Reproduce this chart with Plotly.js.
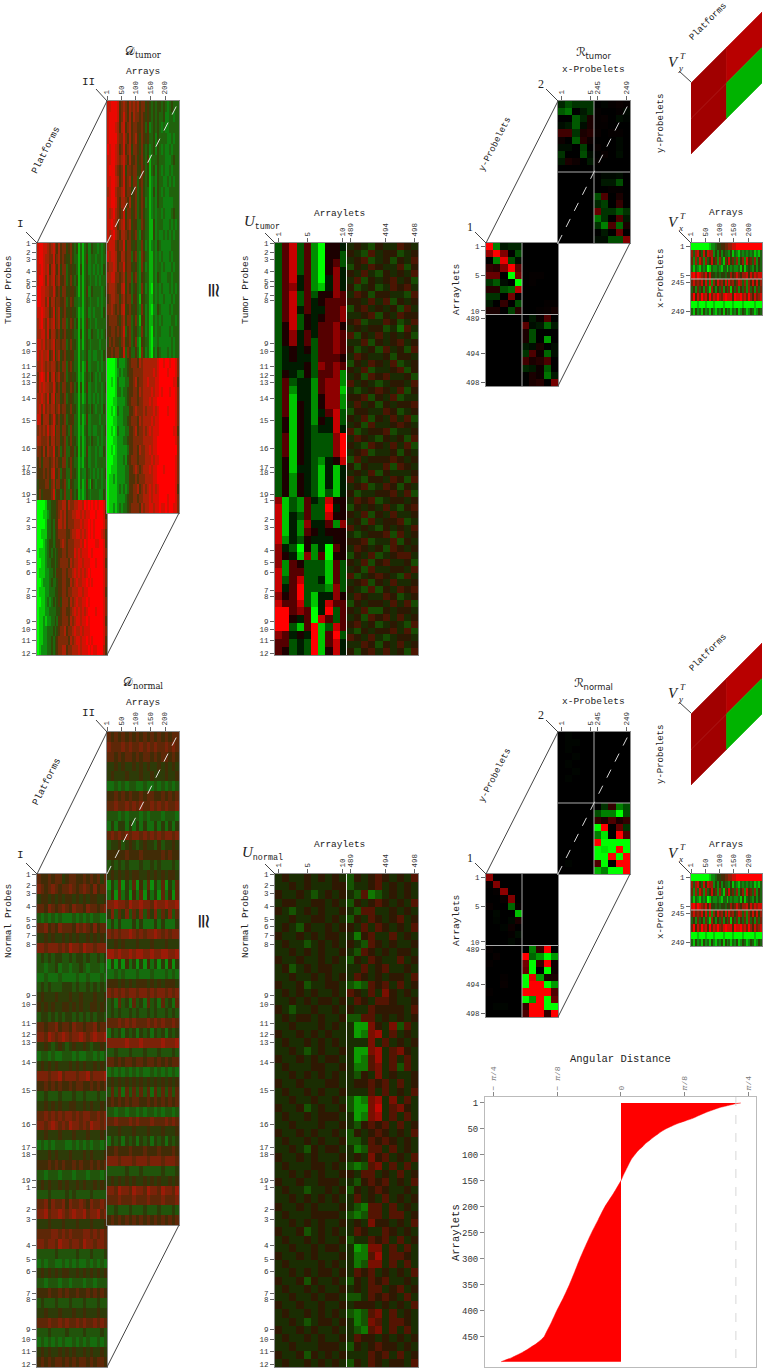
<!DOCTYPE html>
<html><head><meta charset="utf-8">
<script src="https://cdn.plot.ly/plotly-3.0.1.min.js"></script>
<style>html,body{margin:0;padding:0;background:#fff}</style></head>
<body><div id="chart" style="width:765px;height:1371px"></div>
<script>
// Heat values: one digit per cell, 0 = full green, 9 = full red
const dTumorITop=[
"899887678657566456434131342243323234","899877668567565446433131352233233233","889878578657466345443141342232323243","899868678567556346434131343233232333",
"998877668656466445543131352243333234","998868577566556346533231343233323233","889877568467456445443121342232333243","789768678567466346534131353233233333",
"778868577656456445433141342243323234","887867678566566346443131343233332333","878778568467456445533132342232233243","778767677656466356433131252233323233",
"689868578567556345443121343243232333","687877668656466446534141352233233234","778768578466456345433131242232323233","786867677567566446443132343243233243",
"885777568656456345533131252233332333","676768678466466436433121342232233234","776667577566456346443131243243323233","665757668456356335534131252233232243",
"564666567565466346433121342233233333","555656578456355336443132243232323234","455566467466456325433131252143233233","464555568355346336434121243233332243"];
const dTumorIITop=[
"889998567657676756645434344343234333","899998568657576656545434343342233233","899987578567566556535234343232233333","899997668657567546545334243333223233",
"989987568567466546434234243232232333","889987678657556456435133343332223433","899976568466566446534134243232232333","889987568567466356434123243322323233",
"789976678566456346433124243232233333","889986577657456346523123243322222333","878976568466456346433123233232223433","889875678567455336533114233322232323",
"878976577656456325433114232232323233","788865668466445336423123243222223333","878875577566356326533113232322232333","677875668566445326423113233232223233",
"778866567466356325433113243222332333","677765578465345326423103232322232323","567766467566355315433113232232223233","667656578456445326423102243222232333",
"566665467466346315523113232322223323","556656568356345326423103233222232333","465655467456346215433102232222223233","556566458365335316423103243222323233"];
const dTumorIBottom=[
"000013344456677576677887989898989986","000112344456767566778878788999899985","000013343557767566677787889898999986","001113343456666556778878789898999875",
"000123443455676566677787989999889985","011123434345566566687878889989999986","001123344345666657677887888999899985","011122334355566566787878789899999986",
"001222343345566557678778898989999986","011122333445566566777887889999999985","001123234345466657678778898999999986","011122333344566556787878789999899986",
"011212233435566657678878898999999985","011223334345667566787787888999999986","011223343456666657678878898989999985","012223343456677566777878889898899975"];
const dTumorIIBottom=[
"000013222345666576777777789989989986","000012323345566666777778789999899986","001013222335567566778777889999999885","000013323345566576777787889899989986",
"000112222345666566777878899999999986","001013223335567666767778789999899986","000112223345666576777787889999999986","001013222335567566767878889999999885",
"000112223345566666777778899999999986","001012222235566576677878899999999996","000112223245666566677787889999999986","001112222335567656777878899989999986",
"011212222335556566677778899999999986","011112323235566756767878789999999985","011112222345566566777878889999899986","011212323345666657677887889889899886"];
const dNormalI=[
"65565664566556565646","76567656676567657566","45545454554545455445","66576567657665766567","32323232223232323322","66756576665767657566","44545445454544545454","77677767687768776777",
"34343443343443433434","33233423323343233323","22322232222322322232","34343334443433434343","45444544454454445445","54545445545454455454","34434343443434343443","66566756657665667566",
"77687678767787678778","44543454345445434454","23323223332322332323","45454544454545445454","77767786777677867778","55656565565665565656","33433343334334333433","44545454455445454454",
"66767676776767766767","77678767687767687767","44544454445444544454","23232333223232323323","44454544454445454445","55565656556565565656","33233323332333233323","45454454544545445454",
"33343333434333343333","66757667576676576676","77867787678778677867","44454445444544454445","66667767676667767676","77677687767768776776","33333433333433343334","23233223232322323232",
"45454545544545454545","33233323323332332333","55565565655655656565","34333433343334333433","44544454445445444544","66676676766767667676","33343333433334333343","23232323223232322323",
"45454454545445454454","56565665656566565665"];
const dNormalII=[
"65656565656565656566","76667676676767667676","66565665656656566565","44545445454544545454","45444544454454445445","22323233223223232323","55656565565665565656","66766767676676767667",
"33323233323233323332","24244242424224242424","67676767767676767767","34453454345443534454","55555655565555565655","34343433343343433343","45454545544545454554","14261426152614261426",
"25162415261524162516","77877687787768778778","47364736473647364736","24242224242224242224","76767787676778767677","44545444544454445444","88787787887787788778","14141524141524141514",
"22323222322232223232","55545454555454545554","76767677677676776767","34263426342634263426","34343343433434334343","66676767666767676676","24342434243424342434","77777877787777787778",
"33433343334333433343","66565665665665656566","23232323232232323232","45454545454545454545","36362636363626363636","56565656655656565656","33233233232332323323","66766676766676667676",
"44454445444544454445","24342434243424342434","55655565556555655565","77767776777677767776","33333433343333343334","45454545445454544545","77687768776877687768","66676667666766676667",
"33433343334333433343","56565656565656565656"];
const uTumorLeft=[
"3683620554","3683620553","3683620563","3683620574","3684620474","3674621474","3683635576","3683645666",
"3684644667","3683545667","3583546675","3574646676","3574636676","3454536676","3454436665","3444537676",
"3543536672","3634426772","3624426771","3614425772","3615425772","3615424683","3515425483","3515434484",
"3615433379","3615433379","3615433379","3515432458","3514431414","3525431414","3525431414","3525431314",
"7132643855","8132633945","8143633855","8142744627","8142654555","8243544455","7430524065","7541726055",
"7265333163","8266333163","8368334163","8469333273","7569314475","8668314866","9967604936","9954608636",
"9931691386","7645491693","6634391684","6534391584"];
const uTumorRight=[
"4543544654","5436455345","4563453546","3546544635","5464354546","4635456453","5345346564","4653554436",
"5546463545","3564545364","4456354655","5634465346","4545534264","6354645453","4463545645","5345364536",
"4654453554","3546546345","5463445635","4536564453","6454345546","4345654635","5563546344","4645354556",
"3554465345","5463546463","4536445654","6345563445","4654354536","5436546463","4563445354","3645556545",
"5354463654","4546354445","6435546536","4563465354","5344556463","4656345545","3545464356","5463546445",
"4536455634","6454354546","4345563645","5563446354","4654536545","3546345664","5463564453","4536445546",
"6345654364","4563546445","5436354656","4654465345","3545546463","5463354554","4536564645","5645345436",
"4354556463","6546434554","4465354645","5356464536"];
const uNormal=[
"4544545454 3545654546","4454544455 3445645454","5445434545 4362345454","4554455454 3545654546","5434545445 4366445454","4454455454 3546545645","4543544545 5464654546","5445454554 4256446454",
"4544345454 5436545445","4454545445 4365454554","5445445454 3546544645","4534545544 4464564454","4454454545 4654545546","5445344554 3236564645","4545454454 6546475454","4454545545 4654665445",
"5434454454 5446555546","4545545445 3366454545","4454445454 4117547364","5445454544 4127846454","4544545454 4447464545","4454345445 4117846754","5445454554 4126846464","4544455445 4226746364",
"4454545454 4354745445","5445444554 4556564645","4544545445 4446464546","4454454454 3127847464","5445345445 3117946754","4544545554 4127846464","4454445445 4356564645","5445454454 3545654546",
"4544545445 3346565454","4454354554 4236646454","5445454445 4547564546","4544455454 3236746464","4454545445 5466454645","5445445554 4356564546","4544344545 3545654454","4454545454 4645464545",
"5445454445 4326646454","4544455554 3236646645","4454545445 4547554546","5445345454 4654465454","4544545445 3446564645","4454454554 4127746464","5445454445 4226846654","4544445454 4237746464",
"4454545545 4656454546","5445354454 3546564454","4544545445 4546645645","4454454554 3346565464","5445445445 4555454546","4544545454 3236746454","4454345545 4237646654","5445454454 4326746464",
"4544545445 4655454545","4454445554 3545655454","5445354545 4446564645","4544545454 3546545546"].map(r=>r.replace(" ",""));
const vxRows=[
"000000000122344556677889999999999999","737853848772425243324132132323231213","627386273584627316484637257285637253","313213230132232133132322314134324243",
"897987685844343443547568657785868788","686768483827486748386746873727585847","352635263174253625361536253627352636","695869785968797689888598897869758678",
"000100010001000010000100001000001000","314231423142132414231324124312431243"];
// R matrices (values -1 = green .. 1 = red)
const rTumorLower=[
[1,-.5,-.1,-.15,-.15,0,0,0,0,0],[.6,1,.5,0,-.3,0,0,0,0,0],[0,-.5,.9,-.3,-.05,0,0,0,0,0],[.2,.15,.5,1,.35,0,0,0,0,0],[.4,.4,0,-1,.45,0,.02,.02,0,0],
[-.2,-.35,-.05,0,-1,0,.02,0,0,0],[.15,.15,-.3,-.4,.7,0,0,0,0,0],[-.2,-.2,0,.45,0,0,0,0,0,0],[-.1,0,.2,0,-.3,0,0,0,.02,.02],[.1,.1,0,-.25,.15,0,0,.02,.03,.08],
[0,0,0,0,0,0,-.1,.03,.3,0],[0,0,0,0,0,.35,-.05,-.1,-.4,-.1],[0,0,0,0,0,.1,-.3,0,0,0],[0,0,0,0,0,.1,-.3,0,-.6,0],[0,0,0,0,0,-.1,-.05,.1,0,-.05],
[0,0,0,0,0,-.2,.3,.05,-.4,-.05],[0,0,0,0,0,.25,.1,.15,.3,0],[0,0,0,0,0,-.15,-.1,.05,-.35,0],[0,0,0,0,0,0,.1,.05,-.45,-.1],[0,0,0,0,0,0,.1,.15,0,.45]];
const rTumorUpper=[
[-.15,-.3,-.2,-.2,-.2,0,-.02,.02,.04,.02],[-.35,-.45,0,-.1,-.2,.02,0,0,.02,-.03],[0,0,-.35,-.15,.1,.02,.03,0,-.05,-.02],[-.05,-.1,-.35,-.05,.1,.02,.02,0,0,0],[.25,.25,-.2,.1,.15,.03,0,.02,.02,0],
[.05,0,-.35,.15,.05,0,0,0,-.03,0],[-.05,-.05,0,-.25,0,.03,0,0,-.03,0],[-.2,0,0,-.3,-.05,0,.03,0,-.05,0],[-.1,.1,.05,0,-.1,.02,0,0,0,0],[0,0,0,0,0,0,0,0,0,0],
[0,0,0,0,0,0,-.03,-.03,-.05,0],[0,0,0,0,0,0,-.1,-.1,-.3,0],[0,0,0,0,0,0,0,.02,.02,0],[0,0,0,0,0,-.3,.3,0,.1,0],[0,0,0,0,0,-.15,-.25,0,.2,0],
[0,0,0,0,0,.4,-.2,-.2,-.35,-.2],[0,0,0,0,0,-.45,-.2,0,.3,-.1],[0,0,0,0,0,-.2,-.5,.3,-.4,.1],[0,0,0,0,0,0,-.1,0,.4,0],[0,0,0,0,0,-.05,-.05,-.3,-.3,.5]];
const rNormalLower=[
[.55,0,0,0,0,0,0,0,0,0],[.02,.5,0,0,0,0,0,0,0,0],[0,.02,.55,0,0,0,0,0,0,0],[0,0,.03,.5,0,0,0,0,0,0],[.03,0,0,-.4,.02,0,0,0,0,0],
[0,-.03,0,0,-.75,0,0,0,0,0],[0,-.02,0,-.03,.1,0,0,0,0,0],[0,0,-.02,.05,0,0,0,0,0,0],[0,0,0,.02,-.05,0,0,0,0,0],[0,0,0,-.03,0,0,0,0,0,0],
[.02,0,0,0,0,0,-.5,.2,1,0],[0,.03,0,0,0,1,-.4,-.6,-1,-.6],[.02,0,0,0,0,.45,-1,.2,1,.05],[0,0,0,0,0,.4,-1,0,-1,.05],[0,0,.02,0,0,-1,.9,-.6,.1,.1],
[0,0,.03,0,0,-1,1,1,-1,-.6],[.02,0,0,0,0,1,1,1,1,.3],[0,0,0,0,0,-1,-.6,1,-1,.4],[0,-.02,-.02,0,0,.2,1,1,-1,-1],[0,0,0,0,0,.3,1,1,.2,1]];
const rNormalUpper=[
[0,-.02,0,0,0,0,0,0,0,0],[0,-.02,-.02,0,0,0,0,0,0,0],[0,-.02,0,0,0,0,0,0,0,0],[0,0,-.02,0,0,0,0,0,0,0],[0,-.02,0,0,0,0,0,0,0,0],
[0,0,-.02,0,0,0,0,0,0,0],[0,-.02,0,0,0,0,0,0,0,0],[0,0,0,0,0,0,0,0,0,0],[0,0,0,0,0,0,0,0,0,0],[0,0,0,0,0,0,0,0,0,0],
[0,0,0,0,0,0,-.2,.2,-.5,-.3],[0,0,0,0,0,-.3,-.5,-.5,-1,-.3],[0,0,0,0,0,.2,.1,.3,.1,.2],[0,0,0,0,0,-1,1,0,.4,-.2],[0,0,0,0,0,-.5,-.9,0,1,.3],
[0,0,0,0,0,1,-1,-1,-1,-1],[0,0,0,0,0,-1,-.9,-1,1,-1],[0,0,0,0,0,-1,-1,1,-1,1],[0,-.02,0,0,0,.3,-1,0,1,1],[0,0,0,0,0,-.7,-.5,-1,-1,1]];
const vyValues=[[.63,.72],[.63,-.7]];
// tick tables
const probeLabels=["1","2","3","4","5","6","7","8","9","10","11","12","13","14","15","16","17","18","19","1","2","3","4","5","6","7","8","9","10","11","12"];
const tumorProbeTicks=[0,9,16,28,38,43,52,57,100,108,123,132,139,155,177,205,224,229,251,257,276,284,307,319,329,347,353,378,386,397,410];
const normalProbeTicks=[0,11,19,32,45,52,61,70,121,130,149,160,168,188,216,250,273,280,306,313,335,345,371,385,397,419,425,455,465,477,490];
const arrayTicks=[1,50,100,150,200];
const arrayletCols=[1,5,10,11,16,20], arrayletLabels=["1","5","10","489","494","498"];
const probeletCols=[1,5,6,10], probeletLabels=["1","5","245","249"];
const probeletRows=[1,5,6,10], arrayletRows=[1,5,10,11,16,20];
// angular distance
const angArraylet=[1,2,5,10,15,20,25,30,35,40,45,50,55,60,66,72,78,85,92,100,110,123,140,150,175,200,225,250,275,300,325,350,375,400,425,440,450,455,460,465,470,475,480,485,490,495,498];
const angValue=[.739,.712,.671,.606,.56,.517,.48,.446,.40,.353,.315,.281,.253,.23,.203,.179,.154,.133,.107,.086,.062,.041,.014,0,-.047,-.099,-.14,-.181,-.218,-.253,-.285,-.318,-.355,-.396,-.433,-.458,-.474,-.49,-.509,-.53,-.556,-.58,-.608,-.64,-.673,-.715,-.739];
const angTicks=[-Math.PI/4,-Math.PI/8,0,Math.PI/8,Math.PI/4];
const angLabels=["− <i>π</i>/4","− <i>π</i>/8","0","<i>π</i>/8","<i>π</i>/4"];
const angRows=[1,50,100,150,200,250,300,350,400,450];

const W=765,H=1371,MONO='"Liberation Mono",monospace',SERIF='"Liberation Serif",serif';
const layout={width:W,height:H,margin:{l:0,r:0,t:0,b:0},paper_bgcolor:'#fff',plot_bgcolor:'#fff',showlegend:false,shapes:[],annotations:[],font:{family:MONO,size:8,color:'#333'}};
const data=[];
const pureScale=[[0,'#00ff00'],[.5,'#000000'],[1,'#ff0000']];
const oliveScale=[[0,'#00ff00'],[.25,'#0f8010'],[.5,'#3a3606'],[.75,'#a02406'],[1,'#ff0000']];
const darkScale=[[0,'#00ff00'],[.25,'#0f7a10'],[.5,'#332e06'],[.75,'#8a2008'],[1,'#ff0000']];
const noiseScale=[[0,'#00ff00'],[.5,'#1c1a02'],[1,'#ff0000']];
let pid=0;
const tickFont={family:MONO,size:7.5,color:'#333'};
function panel(L,R,T,B,xo,yo){
  pid++; const s=pid===1?'':pid;
  const base={showgrid:false,zeroline:false,showline:true,mirror:true,linecolor:'#8a8a8a',linewidth:1,ticks:'',showticklabels:false,fixedrange:true,tickfont:tickFont,ticklen:4,tickcolor:'#666',tickwidth:1};
  layout['xaxis'+s]=Object.assign({},base,{domain:[L/W,R/W],anchor:'y'+s},xo);
  layout['yaxis'+s]=Object.assign({},base,{domain:[1-B/H,1-T/H],anchor:'x'+s,autorange:false},yo);
  return {x:'x'+s,y:'y'+s};
}
const topTicks=(vals,labels)=>({side:'top',ticks:'outside',showticklabels:true,tickmode:'array',tickvals:vals,ticktext:labels||vals.map(String),tickangle:-90});
const leftTicks=(vals,labels)=>({ticks:'outside',showticklabels:true,tickmode:'array',tickvals:vals,ticktext:labels||vals.map(String)});
const digits=rows=>rows.map(r=>r.split('').map(c=>(+c-4.5)/4.5));
function heat(ax,z,x0,x1,y0,y1,o){
  o=o||{};
  const nc=z[0].length,nr=z.length,dx=(x1-x0)/nc,dy=(y1-y0)/nr,zr=o.zr||1;
  data.push({type:'heatmap',z:z,x0:x0+dx/2,dx:dx,y0:y0+dy/2,dy:dy,xaxis:ax.x,yaxis:ax.y,colorscale:o.scale||pureScale,zmin:-zr,zmax:zr,showscale:false,hoverinfo:'skip'});
}
const px=x=>x/W, py=y=>1-y/H;
function line(x0,y0,x1,y1,color,dash,w){layout.shapes.push({type:'line',xref:'paper',yref:'paper',x0:px(x0),y0:py(y0),x1:px(x1),y1:py(y1),line:{color:color||'#444',width:w||1,dash:dash||'solid'}});}
function note(x,y,text,o){o=o||{};layout.annotations.push({xref:'paper',yref:'paper',x:px(x),y:py(y),text:text,showarrow:false,xanchor:'center',yanchor:'middle',textangle:o.angle||0,font:{family:o.family||MONO,size:o.size||9.5,color:o.color||'#222'}});}
function cellColor(v){return v>=0?`rgb(${Math.round(255*v)},0,0)`:`rgb(0,${Math.round(-255*v)},0)`;}

function group(g){
  const tI=g.topI,bI=g.botI,tII=g.topII,bII=g.botII,h=bI-tI;
  const topOpt={scale:oliveScale,zr:1.12},botOpt={scale:oliveScale,zr:1},normOpt={scale:darkScale,zr:1.35},noise={scale:noiseScale,zr:1.6},noiseN={scale:noiseScale,zr:1.35};
  // D platform I
  let a=panel(37,107,tI,bI,{range:[0,1]},Object.assign(leftTicks(g.ticks,probeLabels),{range:[h,0]}));
  if(g.dIBottom){heat(a,digits(g.dITop),0,1,0,g.split,topOpt);heat(a,digits(g.dIBottom),0,1,g.split,h,botOpt);}else heat(a,digits(g.dITop),0,1,0,h,normOpt);
  // D platform II
  a=panel(107,179,tII,bII,Object.assign(topTicks(arrayTicks),{range:[1,248]}),{range:[h,0]});
  if(g.dIIBottom){heat(a,digits(g.dIITop),1,248,0,g.split,topOpt);heat(a,digits(g.dIIBottom),1,248,g.split,h,botOpt);}else heat(a,digits(g.dIITop),1,248,0,h,normOpt);
  // U
  a=panel(275,418,tI,bI,Object.assign(topTicks(arrayletCols,arrayletLabels),{range:[.5,20.5]}),Object.assign(leftTicks(g.ticks,probeLabels),{range:[h,0]}));
  if(g.uRight){heat(a,digits(g.uLeft),.5,10.5,0,h);heat(a,digits(g.uRight),10.5,20.5,0,h,noise);}else heat(a,digits(g.uLeft),.5,20.5,0,h,noiseN);
  line(346.5,tI,346.5,bI,'#e8e8e8');
  // R lower and upper
  a=panel(486,558,tI,tI+143,{range:[.5,10.5]},Object.assign(leftTicks(arrayletRows,arrayletLabels),{range:[20.5,.5]}));
  heat(a,g.rLower,.5,10.5,.5,20.5);
  a=panel(558,630,tII,tI,Object.assign(topTicks(probeletCols,probeletLabels),{range:[.5,10.5]}),{range:[20.5,.5]});
  heat(a,g.rUpper,.5,10.5,.5,20.5);
  line(522,tI,522,tI+143,'#aaa');line(486,tI+71.5,558,tI+71.5,'#aaa');
  line(594,tII,594,tI,'#aaa');line(558,tII+71,630,tII+71,'#aaa');
  // V_y sheared
  a=panel(691,762,tI-231,tI-89,{range:[0,2],visible:false},{range:[2,-2],visible:false});
  vyValues.forEach((row,r)=>row.forEach((v,c)=>{
    data.push({type:'scatter',mode:'lines',x:[c,c+1,c+1,c,c],y:[r-c,r-c-1,r-c,r-c+1,r-c],fill:'toself',fillcolor:cellColor(v),line:{width:.6,color:cellColor(v)},xaxis:a.x,yaxis:a.y,hoverinfo:'skip'});
  }));
  // V_x
  a=panel(691,762,tI,tI+72,Object.assign(topTicks(arrayTicks),{range:[1,248]}),Object.assign(leftTicks(probeletRows,probeletLabels),{range:[10.5,.5]}));
  heat(a,digits(vxRows),1,248,.5,10.5,{scale:darkScale,zr:1});
  line(691,tI+36,762,tI+36,'#bbb');
  // frame lines
  line(37,tI,107,tII);line(107,bI,179,bII);line(26,tI-11,37,tI);line(96,tII-12,107,tII);
  line(107,tI,179,tII,'#e6e6e6','dash');
  line(486,tII+142,558,tII);line(558,tI+143,630,tI);line(475,tI-11,486,tI);line(546,tII-12,558,tII);
  line(558,tI,630,tII,'#d8d8d8','dash');
  line(265,tI-10,275,tI);line(679,tI-172,691,tI-161);line(679,tI-12,691,tI);
  // text
  note(143,tII-30,'Arrays');
  note(20,tI-19,'I',{size:11});note(88,tII-19,'II',{size:11});
  note(46,tII+50,'Platforms',{angle:-63,size:9.5});
  note(8,tI+g.probeLabelY,g.probes,{angle:-90});note(245,tI+g.probeLabelY,g.probes,{angle:-90});
  note(339,tI-29,'Arraylets');
  note(593,tII-31,'x-Probelets');
  note(541,tII-17,'2',{family:SERIF,size:12});note(470,tI-16,'1',{family:SERIF,size:12});
  note(495,tII+44,'y-Probelets',{angle:-63,size:9});
  note(456,tI+47,'Arraylets',{angle:-90});
  note(708,tI-221,'Platforms',{angle:-45,size:9});
  note(661,tI-119,'y-Probelets',{angle:-90,size:9});
  note(726,tI-30,'Arrays');
  note(661,tI+36,'x-Probelets',{angle:-90,size:9});
  for(const [yy,sub] of [[tI-181,'y'],[tI-21,'x']]){
    note(673,yy,'<i>V</i>',{family:SERIF,size:15});
    note(683,yy-6,'<i>T</i>',{family:SERIF,size:9});
    note(680,yy+6,'<i>'+sub+'</i>',{family:SERIF,size:9});
  }
  note(g.approxX,tI+g.approxY,'≅',{family:'"DejaVu Sans"',size:20,angle:90});
  note(g.dX,tII-49,'𝒟<sub>'+g.name+'</sub>',{size:12,family:'"DejaVu Serif",'+MONO});
  note(593,tII-48,'ℛ<sub>'+g.name+'</sub>',{size:12,family:'"DejaVu Sans",'+MONO});
  note(g.uX,tI-21,'<span style="font-family:\'Liberation Serif\';font-size:15px"><i>U</i></span><sub>'+g.name+'</sub>',{size:12});
}
group({name:'tumor',topI:243,botI:655,topII:101,botII:513,split:257,ticks:tumorProbeTicks,probes:'Tumor Probes',probeLabelY:47,
  dITop:dTumorITop,dIBottom:dTumorIBottom,dIITop:dTumorIITop,dIIBottom:dTumorIIBottom,uLeft:uTumorLeft,uRight:uTumorRight,
  rLower:rTumorLower,rUpper:rTumorUpper,approxX:214,approxY:47,dX:143,uX:262});
group({name:'normal',topI:874,botI:1367,topII:732,botII:1225,ticks:normalProbeTicks,probes:'Normal Probes',probeLabelY:47,
  dITop:dNormalI,dIITop:dNormalII,uLeft:uNormal,
  rLower:rNormalLower,rUpper:rNormalUpper,approxX:204,approxY:47,dX:143,uX:262});
// Angular distance
const an=panel(485,756,1097,1367,Object.assign(topTicks(angTicks,angLabels),{range:[-.838,.832],linecolor:'#bbb',tickfont:{family:MONO,size:8,color:'#777'},tickcolor:'#888'}),
  Object.assign(leftTicks(angRows),{range:[508,-10.5],linecolor:'#bbb',tickfont:{family:MONO,size:9,color:'#333'},tickcolor:'#888'}));
data.push({type:'scatter',mode:'lines',x:angValue,y:angArraylet,fill:'tozerox',fillcolor:'#ff0000',line:{color:'#ff0000',width:.5,shape:'spline',smoothing:.6},xaxis:an.x,yaxis:an.y,hoverinfo:'skip'});
layout.shapes.push({type:'line',xref:an.x,yref:an.y,x0:.708,x1:.708,y0:-10.5,y1:508,line:{color:'#ccc',width:.8,dash:'dash'}});
note(620,1059,'Angular Distance',{size:10.5});
note(456,1233,'Arraylets',{angle:-90,size:10.5});
Plotly.newPlot('chart',data,layout,{displayModeBar:false,staticPlot:true});
</script></body></html>
